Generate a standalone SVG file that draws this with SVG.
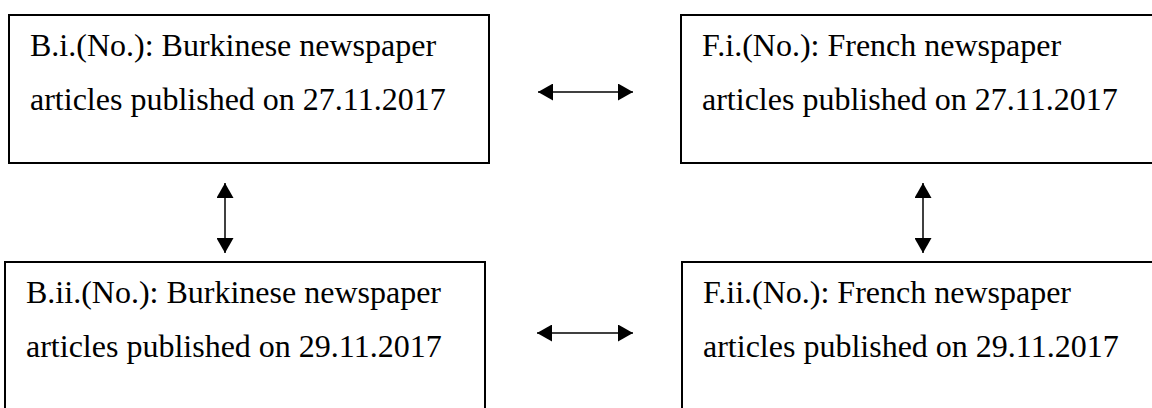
<svg xmlns="http://www.w3.org/2000/svg" width="1152" height="408" viewBox="0 0 1152 408">
  <defs>
    <marker id="ah" viewBox="0 0 15 17" refX="15" refY="8.5" markerWidth="15" markerHeight="17" markerUnits="userSpaceOnUse" orient="auto-start-reverse">
      <path d="M0,0 L15,8.5 L0,17 Z" fill="#000"/>
    </marker>
  </defs>
  <style>
    .box { fill: #fff; stroke: #000; stroke-width: 2; }
    .lbl { font-family: "Liberation Serif", "Times New Roman", serif; font-size: 32px; fill: #000; }
    .conn { stroke: #000; stroke-width: 1.5; fill: none; marker-start: url(#ah); marker-end: url(#ah); }
  </style>
  <rect width="1152" height="408" fill="#fff"/>
  <g id="node-bi">
    <rect class="box" x="9" y="15" width="480" height="148"/>
    <text class="lbl" x="30" y="56">B.i.(No.): Burkinese newspaper</text>
    <text class="lbl" x="30" y="110">articles published on 27.11.2017</text>
  </g>
  <g id="node-fi">
    <rect class="box" x="681" y="15" width="490" height="148"/>
    <text class="lbl" x="702" y="56">F.i.(No.): French newspaper</text>
    <text class="lbl" x="702" y="110">articles published on 27.11.2017</text>
  </g>
  <g id="node-bii">
    <rect class="box" x="5" y="262" width="480" height="160"/>
    <text class="lbl" x="26" y="303">B.ii.(No.): Burkinese newspaper</text>
    <text class="lbl" x="26" y="357">articles published on 29.11.2017</text>
  </g>
  <g id="node-fii">
    <rect class="box" x="682" y="262" width="490" height="160"/>
    <text class="lbl" x="703" y="303">F.ii.(No.): French newspaper</text>
    <text class="lbl" x="703" y="357">articles published on 29.11.2017</text>
  </g>
  <g id="connectors">
    <line class="conn" x1="538" y1="92" x2="633" y2="92"/>
    <line class="conn" x1="537" y1="333" x2="633" y2="333"/>
    <line class="conn" x1="225" y1="183" x2="225" y2="253"/>
    <line class="conn" x1="923" y1="183" x2="923" y2="253"/>
  </g>
</svg>
